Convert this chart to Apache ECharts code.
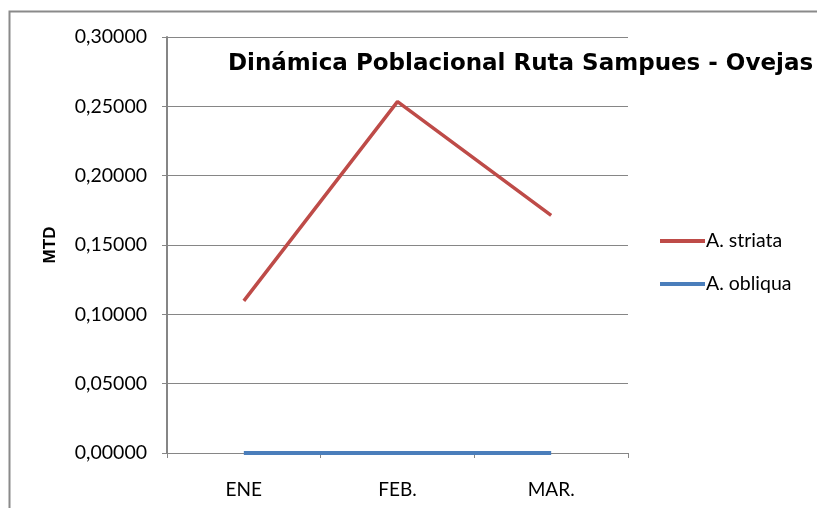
<!DOCTYPE html>
<html><head><meta charset="utf-8">
<script src="https://cdn.jsdelivr.net/npm/echarts@6/dist/echarts.min.js"></script>
<style>html,body{margin:0;padding:0;background:#fff}#c{width:817px;height:508px}</style>
</head><body><div id="c"></div>
<script>
const categories = ['ENE', 'FEB.', 'MAR.'];
const striata = [0.1097, 0.2534, 0.1714];
const obliqua = [0, 0, 0];
const seriesNames = ['A. striata', 'A. obliqua'];
const titleText = 'Dinámica Poblacional Ruta Sampues - Ovejas';
const yName = 'MTD';

const chart = echarts.init(document.getElementById('c'));
const labelFont = 'Lato';
chart.setOption({
  animation: false,
  backgroundColor: '#fff',
  title: {
    text: titleText, left: 223, top: 48,
    textStyle: { fontFamily: 'DejaVu Sans', fontWeight: 'bold', fontSize: 23, color: '#000' }
  },
  graphic: [{
    type: 'rect', shape: { x: 9.5, y: 11.5, width: 900, height: 600 },
    style: { fill: 'none', stroke: '#8a8a8a', lineWidth: 2 }, silent: true, z: -1
  }],
  legend: {
    orient: 'vertical', left: 655, top: 225, itemGap: 21,
    itemWidth: 45, itemHeight: 4, icon: 'rect',
    data: seriesNames,
    textStyle: { fontFamily: labelFont, fontSize: 19.5, color: '#000', lineHeight: 22, padding: [0,0,0,-4] }
  },
  grid: { left: 167, top: 37, right: 189, bottom: 55, containLabel: false },
  xAxis: {
    type: 'category', data: categories, boundaryGap: true,
    axisLine: { lineStyle: { color: '#868686', width: 1 } },
    axisTick: { show: true, length: 5, lineStyle: { color: '#868686' } },
    axisLabel: { margin: 27, fontFamily: labelFont, fontSize: 19, color: '#000' }
  },
  yAxis: {
    type: 'value', min: 0, max: 0.3, interval: 0.05,
    name: yName, nameLocation: 'middle', nameGap: 108, nameRotate: 90,
    nameTextStyle: { fontFamily: 'Liberation Sans', fontWeight: 'bold', fontSize: 17, color: '#000' },
    axisLine: { show: true, lineStyle: { color: '#868686', width: 2 } },
    axisTick: { show: true, length: 5, lineStyle: { color: '#868686' } },
    axisLabel: { margin: 20, fontFamily: labelFont, fontSize: 19.5, color: '#000',
      formatter: v => v.toFixed(5).replace('.', ',') },
    splitLine: { show: true, lineStyle: { color: '#868686', width: 1 } }
  },
  series: [
    { name: seriesNames[0], type: 'line', data: striata, symbol: 'none',
      color: '#BE4B48', lineStyle: { width: 3.5, color: '#BE4B48' } },
    { name: seriesNames[1], type: 'line', data: obliqua, symbol: 'none',
      color: '#4A7EBB', lineStyle: { width: 4, color: '#4A7EBB' } }
  ]
});
</script></body></html>
